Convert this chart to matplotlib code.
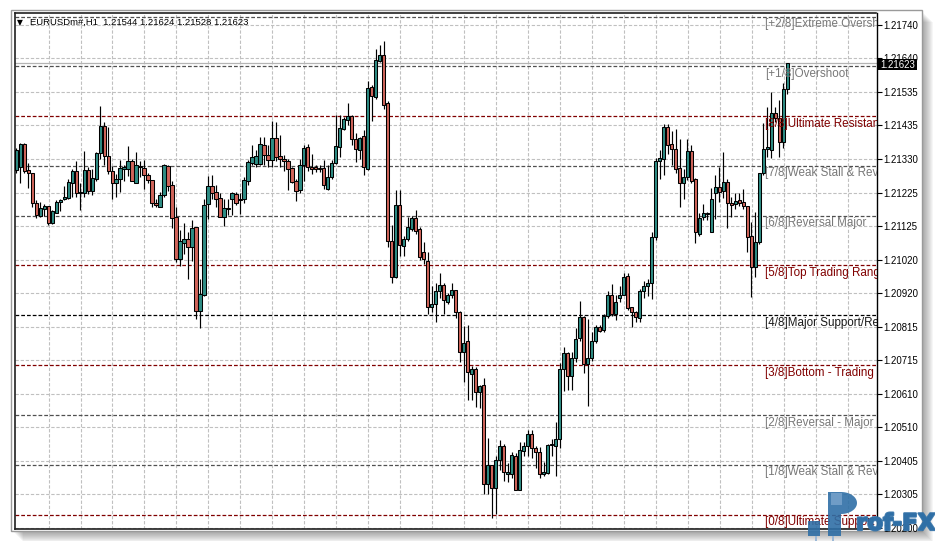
import numpy as np
import matplotlib.pyplot as plt
import matplotlib.transforms as mtransforms
import matplotlib.patheffects as pe
from matplotlib.patches import Rectangle, Polygon

plt.rcParams['font.family'] = ['Liberation Sans', 'DejaVu Sans']

# EURUSDm#, H1 bars (oldest -> newest)
opens = [1.21297, 1.21306, 1.21376, 1.21297, 1.21288, 1.21196, 1.21156, 1.21178, 1.21187, 1.21135,
         1.21166, 1.21199, 1.21208, 1.21211, 1.21257, 1.21294, 1.21230, 1.21227, 1.21297, 1.21233,
         1.21270, 1.21349, 1.21431, 1.21340, 1.21294, 1.21257, 1.21270, 1.21300, 1.21300, 1.21324,
         1.21257, 1.21306, 1.21303, 1.21282, 1.21266, 1.21196, 1.21184, 1.21221, 1.21309, 1.21251,
         1.21153, 1.21025, 1.21074, 1.21086, 1.21062, 1.21123, 1.20866, 1.20915, 1.21193, 1.21248,
         1.21230, 1.21211, 1.21153, 1.21178, 1.21208, 1.21224, 1.21208, 1.21208, 1.21263, 1.21318,
         1.21315, 1.21315, 1.21373, 1.21343, 1.21328, 1.21395, 1.21340, 1.21331, 1.21324, 1.21303,
         1.21263, 1.21236, 1.21312, 1.21367, 1.21306, 1.21306, 1.21303, 1.21303, 1.21239, 1.21276,
         1.21318, 1.21367, 1.21422, 1.21450, 1.21462, 1.21392, 1.21358, 1.21401, 1.21300, 1.21551,
         1.21520, 1.21630, 1.21648, 1.21502, 1.21080, 1.20970, 1.21190, 1.21065, 1.21086, 1.21117,
         1.21150, 1.21117, 1.21046, 1.21019, 1.20878, 1.20885, 1.20927, 1.20943, 1.20891, 1.20915,
         1.20930, 1.20860, 1.20738, 1.20772, 1.20671, 1.20686, 1.20616, 1.20637, 1.20335, 1.20393,
         1.20322, 1.20408, 1.20451, 1.20365, 1.20365, 1.20420, 1.20316, 1.20435, 1.20451, 1.20487,
         1.20445, 1.20432, 1.20365, 1.20368, 1.20454, 1.20451, 1.20472, 1.20686, 1.20735, 1.20665,
         1.20720, 1.20781, 1.20845, 1.20701, 1.20720, 1.20772, 1.20814, 1.20805, 1.20848, 1.20912,
         1.20854, 1.20903, 1.20915, 1.20973, 1.20878, 1.20860, 1.20842, 1.20927, 1.20940, 1.20949,
         1.21092, 1.21324, 1.21331, 1.21428, 1.21376, 1.21361, 1.21303, 1.21257, 1.21276, 1.21355,
         1.21270, 1.21101, 1.21153, 1.21163, 1.21105, 1.21227, 1.21245, 1.21233, 1.21260, 1.21196,
         1.21193, 1.21205, 1.21199, 1.21187, 1.21095, 1.20998, 1.21077, 1.21288, 1.21361, 1.21358,
         1.21471, 1.21456, 1.21383, 1.21544]
highs = [1.21364, 1.21379, 1.21379, 1.21318, 1.21288, 1.21205, 1.21199, 1.21193, 1.21187, 1.21175,
         1.21205, 1.21208, 1.21248, 1.21270, 1.21300, 1.21324, 1.21257, 1.21355, 1.21306, 1.21300,
         1.21352, 1.21493, 1.21444, 1.21428, 1.21309, 1.21285, 1.21328, 1.21312, 1.21370, 1.21331,
         1.21352, 1.21324, 1.21328, 1.21288, 1.21266, 1.21208, 1.21230, 1.21315, 1.21312, 1.21263,
         1.21184, 1.21114, 1.21135, 1.21105, 1.21144, 1.21123, 1.20961, 1.21208, 1.21279, 1.21282,
         1.21251, 1.21227, 1.21208, 1.21208, 1.21230, 1.21230, 1.21227, 1.21276, 1.21328, 1.21373,
         1.21358, 1.21398, 1.21398, 1.21373, 1.21447, 1.21444, 1.21404, 1.21343, 1.21331, 1.21306,
         1.21270, 1.21331, 1.21373, 1.21376, 1.21346, 1.21312, 1.21312, 1.21328, 1.21312, 1.21328,
         1.21465, 1.21465, 1.21459, 1.21502, 1.21465, 1.21410, 1.21398, 1.21419, 1.21569, 1.21557,
         1.21667, 1.21679, 1.21691, 1.21508, 1.21129, 1.21236, 1.21236, 1.21095, 1.21153, 1.21156,
         1.21175, 1.21123, 1.21077, 1.21046, 1.20940, 1.20949, 1.20982, 1.20949, 1.20921, 1.20949,
         1.20930, 1.20863, 1.20820, 1.20823, 1.20695, 1.20692, 1.20637, 1.20658, 1.20475, 1.20393,
         1.20420, 1.20469, 1.20457, 1.20399, 1.20432, 1.20429, 1.20463, 1.20463, 1.20500, 1.20500,
         1.20451, 1.20448, 1.20402, 1.20457, 1.20472, 1.20524, 1.20704, 1.20753, 1.20738, 1.20738,
         1.20811, 1.20894, 1.20848, 1.20839, 1.20799, 1.20823, 1.20823, 1.20854, 1.20927, 1.20946,
         1.20915, 1.20940, 1.20982, 1.20982, 1.20878, 1.20863, 1.20933, 1.20955, 1.20964, 1.21105,
         1.21334, 1.21358, 1.21438, 1.21438, 1.21416, 1.21422, 1.21392, 1.21300, 1.21392, 1.21373,
         1.21273, 1.21166, 1.21193, 1.21169, 1.21242, 1.21282, 1.21306, 1.21352, 1.21270, 1.21215,
         1.21227, 1.21227, 1.21239, 1.21187, 1.21138, 1.21169, 1.21288, 1.21441, 1.21489, 1.21535,
         1.21489, 1.21511, 1.21563, 1.21624]
lows = [1.21288, 1.21257, 1.21288, 1.21242, 1.21184, 1.21150, 1.21153, 1.21156, 1.21129, 1.21132,
        1.21166, 1.21172, 1.21205, 1.21208, 1.21215, 1.21215, 1.21175, 1.21215, 1.21224, 1.21221,
        1.21263, 1.21331, 1.21312, 1.21285, 1.21208, 1.21215, 1.21230, 1.21263, 1.21279, 1.21263,
        1.21257, 1.21276, 1.21239, 1.21257, 1.21184, 1.21184, 1.21184, 1.21215, 1.21233, 1.21120,
        1.21016, 1.21001, 1.21040, 1.20964, 1.21019, 1.20839, 1.20811, 1.20909, 1.21147, 1.21208,
        1.21184, 1.21153, 1.21126, 1.21160, 1.21160, 1.21190, 1.21163, 1.21196, 1.21251, 1.21312,
        1.21306, 1.21312, 1.21312, 1.21306, 1.21306, 1.21324, 1.21306, 1.21294, 1.21236, 1.21257,
        1.21202, 1.21227, 1.21263, 1.21294, 1.21285, 1.21291, 1.21291, 1.21239, 1.21236, 1.21270,
        1.21315, 1.21337, 1.21419, 1.21434, 1.21373, 1.21321, 1.21331, 1.21282, 1.21297, 1.21447,
        1.21514, 1.21627, 1.21483, 1.21062, 1.20949, 1.20967, 1.21034, 1.21034, 1.21080, 1.21111,
        1.21101, 1.21022, 1.21007, 1.20854, 1.20860, 1.20830, 1.20903, 1.20854, 1.20885, 1.20903,
        1.20842, 1.20707, 1.20646, 1.20591, 1.20591, 1.20570, 1.20567, 1.20304, 1.20304, 1.20231,
        1.20243, 1.20377, 1.20344, 1.20341, 1.20353, 1.20316, 1.20316, 1.20420, 1.20420, 1.20414,
        1.20383, 1.20353, 1.20359, 1.20365, 1.20420, 1.20359, 1.20445, 1.20619, 1.20622, 1.20622,
        1.20707, 1.20772, 1.20674, 1.20573, 1.20710, 1.20768, 1.20799, 1.20799, 1.20842, 1.20848,
        1.20836, 1.20891, 1.20912, 1.20869, 1.20817, 1.20830, 1.20830, 1.20903, 1.20909, 1.20900,
        1.21083, 1.21270, 1.21282, 1.21346, 1.21312, 1.21288, 1.21184, 1.21208, 1.21266, 1.21257,
        1.21074, 1.21095, 1.21144, 1.21144, 1.21105, 1.21147, 1.21199, 1.21211, 1.21120, 1.21153,
        1.21178, 1.21187, 1.21178, 1.21046, 1.20906, 1.20970, 1.21071, 1.21282, 1.21337, 1.21334,
        1.21444, 1.21337, 1.21364, 1.21528]
closes = [1.21358, 1.21376, 1.21294, 1.21288, 1.21196, 1.21160, 1.21181, 1.21187, 1.21135, 1.21172,
          1.21199, 1.21205, 1.21215, 1.21260, 1.21294, 1.21227, 1.21227, 1.21297, 1.21233, 1.21273,
          1.21349, 1.21431, 1.21340, 1.21294, 1.21257, 1.21270, 1.21303, 1.21306, 1.21324, 1.21263,
          1.21312, 1.21309, 1.21282, 1.21266, 1.21196, 1.21190, 1.21221, 1.21312, 1.21248, 1.21150,
          1.21025, 1.21080, 1.21086, 1.21062, 1.21120, 1.20866, 1.20918, 1.21190, 1.21248, 1.21227,
          1.21208, 1.21153, 1.21181, 1.21181, 1.21227, 1.21196, 1.21205, 1.21266, 1.21321, 1.21337,
          1.21340, 1.21376, 1.21343, 1.21328, 1.21395, 1.21337, 1.21331, 1.21324, 1.21300, 1.21260,
          1.21233, 1.21312, 1.21364, 1.21306, 1.21300, 1.21300, 1.21300, 1.21251, 1.21276, 1.21318,
          1.21370, 1.21425, 1.21453, 1.21462, 1.21392, 1.21361, 1.21395, 1.21306, 1.21548, 1.21523,
          1.21633, 1.21648, 1.21496, 1.21080, 1.20970, 1.21190, 1.21068, 1.21086, 1.21123, 1.21150,
          1.21111, 1.21031, 1.21025, 1.20878, 1.20885, 1.20927, 1.20943, 1.20897, 1.20915, 1.20930,
          1.20860, 1.20738, 1.20768, 1.20677, 1.20686, 1.20616, 1.20634, 1.20335, 1.20393, 1.20322,
          1.20408, 1.20451, 1.20371, 1.20371, 1.20423, 1.20316, 1.20438, 1.20451, 1.20487, 1.20445,
          1.20432, 1.20365, 1.20371, 1.20454, 1.20457, 1.20472, 1.20686, 1.20735, 1.20665, 1.20720,
          1.20778, 1.20845, 1.20701, 1.20720, 1.20772, 1.20814, 1.20802, 1.20848, 1.20912, 1.20854,
          1.20891, 1.20915, 1.20970, 1.20875, 1.20860, 1.20845, 1.20927, 1.20940, 1.20949, 1.21092,
          1.21324, 1.21334, 1.21428, 1.21373, 1.21361, 1.21300, 1.21257, 1.21276, 1.21355, 1.21263,
          1.21105, 1.21150, 1.21166, 1.21166, 1.21208, 1.21245, 1.21230, 1.21260, 1.21196, 1.21190,
          1.21202, 1.21196, 1.21187, 1.21092, 1.20998, 1.21077, 1.21288, 1.21361, 1.21367, 1.21471,
          1.21456, 1.21383, 1.21544, 1.21623]

symbol = "EURUSDm#,H1"
price_ticks = [1.21740, 1.21640, 1.21535, 1.21435, 1.21330, 1.21225, 1.21125, 1.21020,
               1.20920, 1.20815, 1.20715, 1.20610, 1.20510, 1.20405, 1.20305, 1.20200]

# murrey math lines, 0/8 .. +2/8
murrey_levels = [1.20241, 1.20394, 1.20546, 1.20699, 1.20851, 1.21004,
                 1.21156, 1.21309, 1.21461, 1.21614, 1.21766]
murrey_names = ["[0/8]Ultimate Support", "[1/8]Weak Stall & Reverse", "[2/8]Reversal - Major",
                "[3/8]Bottom - Trading Range", "[4/8]Major Support/Resistance",
                "[5/8]Top Trading Range", "[6/8]Reversal Major", "[7/8]Weak Stall & Reverse",
                "[8/8]Ultimate Resistance", "[+1/8]Overshoot", "[+2/8]Extreme Overshoot"]
line_colors = ["#800000", "#505050", "#505050", "#800000", "#000000", "#800000",
               "#505050", "#505050", "#800000", "#505050", "#505050"]
text_colors = ["#800000", "#787878", "#787878", "#800000", "#1a1a1a", "#800000",
               "#787878", "#787878", "#800000", "#787878", "#787878"]

W, H = 935, 541
fig = plt.figure(figsize=(W / 100, H / 100), dpi=100)
fig.patch.set_facecolor("white")
px = fig.dpi_scale_trans  # 1 unit = 100 px


def box(x0, y0, x1, y1, **kw):
    # rectangle given in pixels from the top-left corner
    return Rectangle((x0 / 100, (H - y1) / 100), (x1 - x0) / 100, (y1 - y0) / 100,
                     transform=px, **kw)


# window shadow + frame
for k in range(10):
    fig.patches.append(box(14 + k, 13 + k, 924 + k, 533 + k, facecolor="black",
                           alpha=0.035, edgecolor="none", zorder=0.1))
fig.patches.append(box(11, 10, 922, 531, facecolor="white", edgecolor="#9a9a9a", lw=1, zorder=0.2))

ax = fig.add_axes([15 / W, (H - 529) / H, (876.5 - 15) / W, (529 - 13) / H])
ax.set_zorder(1)
ax.set_facecolor("white")
ax.set_xlim(-0.3, 215.3)
ax.set_ylim(1.20197, 1.21777)

# grid
for p in price_ticks:
    ax.axhline(p, color="#c0c0c0", lw=0.8, ls=(0, (3, 1.6)), zorder=0)
for gx in range(8, 216, 8):
    ax.axvline(gx + 0.1, color="#c0c0c0", lw=0.8, ls=(0, (3, 1.6)), zorder=0)

# bid line
ax.axhline(closes[-1], color="#b4b4b4", lw=0.9, zorder=1)

# murrey lines and labels
lab_tr = mtransforms.offset_copy(ax.transData, fig=fig, x=0, y=-7.5, units="dots")
for lvl, name, lc, tc in zip(murrey_levels, murrey_names, line_colors, text_colors):
    ax.axhline(lvl, color=lc, lw=0.9, ls=(0, (3, 1.6)), zorder=1)
    ax.text(187.4, lvl, name, transform=lab_tr, color=tc, fontsize=8.4,
            va="center", ha="left", clip_on=True, zorder=4)

# candles
for i in range(len(closes)):
    o, h, l, c = opens[i], highs[i], lows[i], closes[i]
    ax.vlines(i, l, h, color="black", lw=0.85, zorder=2)
    col = "#2e8c84" if c >= o else "#d0645a"
    bot = min(o, c)
    ht = max(abs(c - o), 0.00002)
    ax.add_patch(Rectangle((i - 0.4, bot), 0.8, ht, facecolor=col, edgecolor="black",
                           lw=0.75, zorder=3))

# axes look
for s in ["left", "top", "bottom"]:
    ax.spines[s].set_color("#202020")
    ax.spines[s].set_linewidth(1.2)
ax.spines["right"].set_color("black")
ax.spines["right"].set_linewidth(1.0)
ax.set_xticks([])
ax.yaxis.tick_right()
ax.set_yticks(price_ticks)
ax.set_yticklabels(["%.5f" % p for p in price_ticks])
ax.tick_params(axis="y", length=3.5, width=0.8, pad=1.5, labelsize=6.9, colors="black")

# header
ax.text(2 / 861, 1 - 9.5 / 516, "\u25bc", transform=ax.transAxes, fontsize=5.5,
        va="center", ha="left", color="black", family=["DejaVu Sans"])
ax.text(15 / 861, 1 - 9.5 / 516,
        "%s  %.5f %.5f %.5f %.5f" % (symbol, opens[-1], highs[-1], lows[-1], closes[-1]),
        transform=ax.transAxes, fontsize=6.8, va="center", ha="left", color="black")

# current price box
fig.patches.append(box(877.5, 59, 916.5, 70, facecolor="black", edgecolor="none", zorder=5))
fig.text(880 / W, (H - 64.5) / H, "%.5f" % closes[-1], color="white", fontsize=6.9,
         va="center", ha="left", zorder=6)

# watermark logo
logo = "#2f6fa6"
fig.patches.append(box(808, 521, 820, 536, facecolor=logo, edgecolor="none", alpha=0.9, zorder=7))
fig.patches.append(box(815, 536, 816.5, 541, facecolor="#9bb8d6", edgecolor="none", zorder=7))
fig.patches.append(box(832, 536, 833.5, 541, facecolor="#9bb8d6", edgecolor="none", zorder=7))
fig.patches.append(box(828, 492, 841, 536, facecolor=logo, edgecolor="none", alpha=0.9, zorder=7))
t = np.linspace(-np.pi / 2, np.pi / 2, 30)
bowl = np.column_stack([(841 + 16 * np.cos(t)) / 100, (H - 503 + 11 * np.sin(t)) / 100])
fig.patches.append(Polygon(bowl, closed=True, transform=px, facecolor=logo,
                           edgecolor="none", alpha=0.9, zorder=7))
fig.patches.append(box(831, 493, 842, 505, facecolor="#6f9cc6", edgecolor="none", zorder=7.5))
fig.text(856 / W, (H - 535) / H, "rof-FX", color=logo, fontsize=16.5, fontweight="bold",
         va="bottom", ha="left", alpha=0.9, zorder=7, family=["DejaVu Sans"],
         path_effects=[pe.withStroke(linewidth=1.6, foreground=logo)])

fig.savefig("out.png", dpi=100)
